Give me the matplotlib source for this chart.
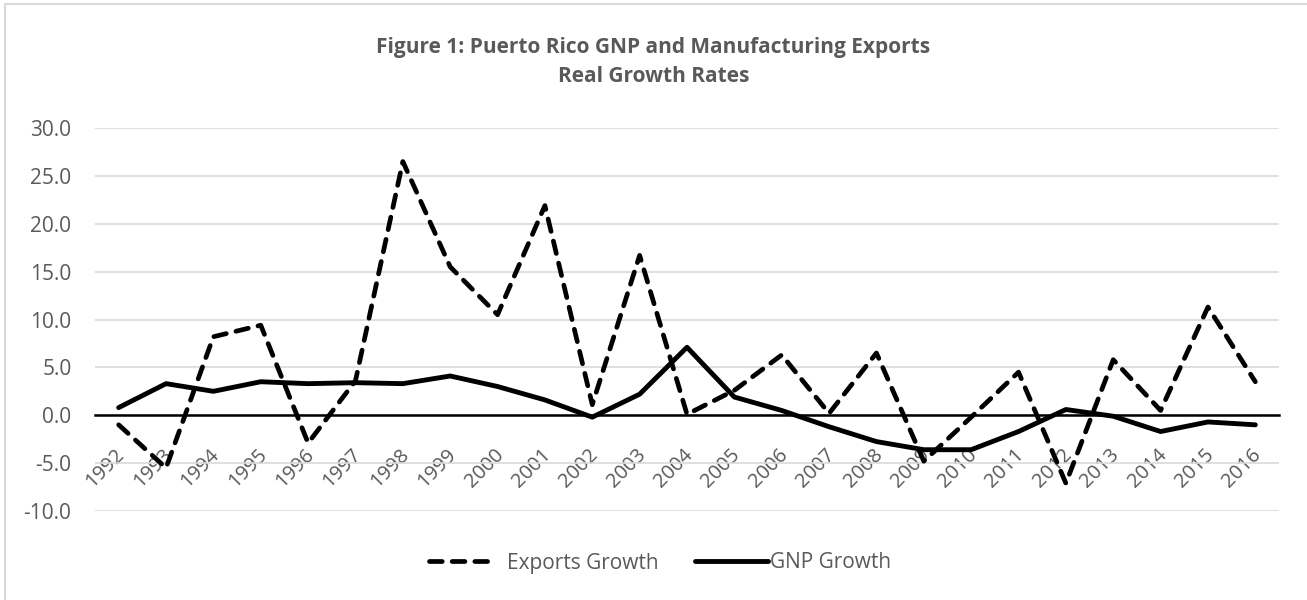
import matplotlib.pyplot as plt
from matplotlib.lines import Line2D
from matplotlib.transforms import ScaledTranslation

# values
years = [str(y) for y in range(1992, 2017)]
exports_growth = [-1.0, -5.5, 8.2, 9.4, -2.9, 3.6, 26.5, 15.5, 10.5, 21.9,
                  1.1, 16.7, 0.1, 2.6, 6.3, 0.2, 6.5, -4.8, -0.2, 4.5,
                  -7.1, 5.8, 0.5, 11.3, 3.5]
gnp_growth = [0.8, 3.3, 2.5, 3.5, 3.3, 3.4, 3.3, 4.1, 3.0, 1.6,
              -0.2, 2.2, 7.1, 1.9, 0.5, -1.2, -2.75, -3.6, -3.6, -1.7,
              0.6, -0.1, -1.7, -0.7, -1.0]
y_ticks = [-10, -5, 0, 5, 10, 15, 20, 25, 30]

plt.rcParams['font.family'] = ['Open Sans', 'DejaVu Sans']
grey_text = '#595959'

W, H = 1307, 600
fig = plt.figure(figsize=(W / 100, H / 100), dpi=100)
# chart border (only the top and left edges show in the picture)
fig.lines.append(Line2D([5 / W, 5 / W, 1], [0, 1 - 4 / H, 1 - 4 / H], transform=fig.transFigure,
                        color='#d9d9d9', linewidth=1.5))

ax = fig.add_axes([95 / W, 1 - 511 / H, 1184 / W, (511 - 128) / H])
x = list(range(len(years)))

ex_line, = ax.plot(x, exports_growth, color='black', linewidth=3.4,
                   dash_capstyle='round', solid_capstyle='round', label='Exports Growth')
ex_line.set_dashes((2.7, 2.1))
gnp_line, = ax.plot(x, gnp_growth, color='black', linewidth=3.5, solid_capstyle='round',
                    solid_joinstyle='round', label='GNP Growth')

ax.set_xlim(-0.5, len(years) - 0.5)
ax.set_ylim(-10, 30)
ax.set_yticks(y_ticks)
ax.set_yticklabels([f'{v:.1f}' for v in y_ticks])
ax.grid(axis='y', color='#d9d9d9', linewidth=1.2)
ax.set_axisbelow(True)

for s in ['top', 'right', 'left']:
    ax.spines[s].set_visible(False)
ax.spines['bottom'].set_position(('data', 0))
ax.spines['bottom'].set_linewidth(1.8)
ax.spines['bottom'].set_zorder(1.5)

ax.set_xticks(x)
ax.set_xticklabels(years, rotation=45, ha='right', va='top', rotation_mode='anchor')
ax.tick_params(axis='x', length=0, pad=21, labelsize=14.5, labelcolor=grey_text)
ax.tick_params(axis='y', length=0, pad=17, labelsize=15, labelcolor=grey_text)
# nudge the year labels a little to the left, like the original
shift = ScaledTranslation(-4 / 100, 0, fig.dpi_scale_trans)
for lab in ax.get_xticklabels():
    lab.set_transform(lab.get_transform() + shift)

fig.text(0.5, 1 - 62 / H, 'Figure 1: Puerto Rico GNP and Manufacturing Exports\nReal Growth Rates',
         ha='center', va='center', fontsize=15, fontweight='bold', color=grey_text,
         linespacing=1.5)

leg_y = 1 - 563 / H
leg1 = fig.legend(handles=[ex_line], loc='center left', bbox_to_anchor=(429 / W, leg_y),
                  frameon=False, fontsize=15, labelcolor=grey_text, handlelength=3.05,
                  handletextpad=0.7, borderpad=0, borderaxespad=0)
fig.legend(handles=[gnp_line], loc='center left', bbox_to_anchor=(695 / W, leg_y),
           frameon=False, fontsize=15, labelcolor=grey_text, handlelength=3.5,
           handletextpad=0.12, borderpad=0, borderaxespad=0)

fig.savefig('out.png', dpi=100)
